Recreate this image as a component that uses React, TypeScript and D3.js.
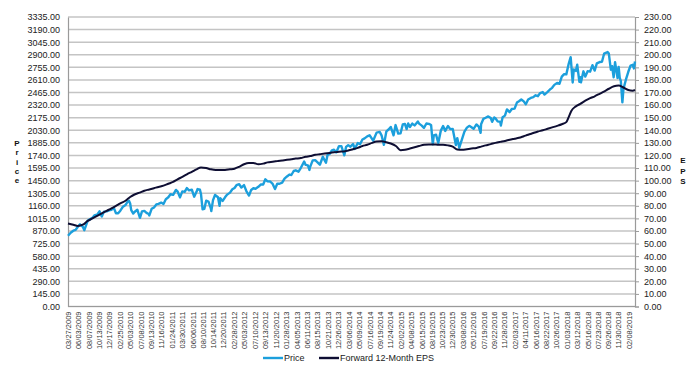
import { useEffect, useRef } from 'react';
import * as d3 from 'd3';

// S&P 500 price (roughly twice a month, more around sharp moves)
const priceData: [string, number][] = [
  ['2009-03-27', 815], ['2009-04-15', 852], ['2009-04-30', 873], ['2009-05-15', 882], ['2009-05-29', 919],
  ['2009-06-12', 946], ['2009-06-30', 919], ['2009-07-10', 879], ['2009-07-31', 987], ['2009-08-14', 1004],
  ['2009-08-31', 1021], ['2009-09-15', 1053], ['2009-09-30', 1057], ['2009-10-15', 1096], ['2009-10-30', 1036],
  ['2009-11-13', 1093], ['2009-11-30', 1096], ['2009-12-15', 1108], ['2009-12-31', 1115],
  ['2010-01-15', 1136], ['2010-01-29', 1074], ['2010-02-12', 1075], ['2010-02-26', 1104], ['2010-03-15', 1150],
  ['2010-03-31', 1169], ['2010-04-15', 1211], ['2010-04-23', 1217], ['2010-04-30', 1187], ['2010-05-07', 1110],
  ['2010-05-20', 1071], ['2010-05-28', 1089], ['2010-06-15', 1115], ['2010-06-30', 1031], ['2010-07-02', 1022],
  ['2010-07-15', 1096], ['2010-07-30', 1102], ['2010-08-13', 1079], ['2010-08-27', 1065], ['2010-08-31', 1049],
  ['2010-09-15', 1125], ['2010-09-30', 1141], ['2010-10-15', 1176], ['2010-10-29', 1183], ['2010-11-15', 1197],
  ['2010-11-30', 1181], ['2010-12-15', 1236], ['2010-12-31', 1258],
  ['2011-01-14', 1293], ['2011-01-31', 1286], ['2011-02-18', 1343], ['2011-02-28', 1327], ['2011-03-16', 1257],
  ['2011-03-31', 1326], ['2011-04-15', 1320], ['2011-04-29', 1364], ['2011-05-13', 1338], ['2011-05-31', 1345],
  ['2011-06-15', 1265], ['2011-06-30', 1321], ['2011-07-07', 1353], ['2011-07-22', 1345], ['2011-07-29', 1292],
  ['2011-08-08', 1119], ['2011-08-19', 1124], ['2011-08-31', 1219], ['2011-09-15', 1209], ['2011-09-30', 1131],
  ['2011-10-03', 1099], ['2011-10-14', 1225], ['2011-10-27', 1285], ['2011-11-15', 1258], ['2011-11-25', 1159],
  ['2011-11-30', 1247], ['2011-12-15', 1216], ['2011-12-30', 1258],
  ['2012-01-13', 1289], ['2012-01-31', 1312], ['2012-02-15', 1351], ['2012-02-29', 1366], ['2012-03-15', 1402],
  ['2012-03-30', 1408], ['2012-04-13', 1370], ['2012-04-30', 1398], ['2012-05-15', 1330], ['2012-06-01', 1278],
  ['2012-06-15', 1343], ['2012-06-29', 1362], ['2012-07-13', 1357], ['2012-07-31', 1379], ['2012-08-15', 1405],
  ['2012-08-31', 1406], ['2012-09-14', 1465], ['2012-09-28', 1441], ['2012-10-15', 1440], ['2012-10-31', 1412],
  ['2012-11-15', 1353], ['2012-11-30', 1416], ['2012-12-14', 1414], ['2012-12-31', 1426],
  ['2013-01-15', 1472], ['2013-01-31', 1498], ['2013-02-15', 1520], ['2013-02-28', 1515], ['2013-03-15', 1561],
  ['2013-03-28', 1569], ['2013-04-15', 1553], ['2013-04-30', 1598], ['2013-05-21', 1669], ['2013-05-31', 1631],
  ['2013-06-14', 1626], ['2013-06-24', 1573], ['2013-06-28', 1606], ['2013-07-15', 1683], ['2013-07-31', 1686],
  ['2013-08-15', 1661], ['2013-08-30', 1633], ['2013-09-18', 1725], ['2013-09-30', 1682], ['2013-10-08', 1656],
  ['2013-10-18', 1745], ['2013-10-31', 1757], ['2013-11-15', 1798], ['2013-11-29', 1806], ['2013-12-13', 1775],
  ['2013-12-31', 1848],
  ['2014-01-15', 1848], ['2014-02-03', 1742], ['2014-02-14', 1838], ['2014-02-28', 1859], ['2014-03-14', 1841],
  ['2014-03-31', 1872], ['2014-04-11', 1815], ['2014-04-30', 1884], ['2014-05-15', 1870], ['2014-05-30', 1924],
  ['2014-06-13', 1937], ['2014-06-30', 1960], ['2014-07-15', 1973], ['2014-07-31', 1931], ['2014-08-07', 1910],
  ['2014-08-29', 2003], ['2014-09-18', 2011], ['2014-09-30', 1972], ['2014-10-15', 1862], ['2014-10-31', 2018],
  ['2014-11-14', 2039], ['2014-11-28', 2068], ['2014-12-16', 1972], ['2014-12-29', 2090],
  ['2015-01-15', 1992], ['2015-01-30', 1995], ['2015-02-13', 2097], ['2015-02-27', 2104], ['2015-03-10', 2044],
  ['2015-03-20', 2108], ['2015-03-31', 2068], ['2015-04-15', 2107], ['2015-04-30', 2086], ['2015-05-21', 2131],
  ['2015-05-29', 2107], ['2015-06-15', 2084], ['2015-06-29', 2058], ['2015-07-15', 2108], ['2015-07-31', 2104],
  ['2015-08-14', 2091], ['2015-08-25', 1868], ['2015-08-31', 1972], ['2015-09-15', 1979], ['2015-09-29', 1884],
  ['2015-10-15', 2023], ['2015-10-30', 2079], ['2015-11-13', 2023], ['2015-11-30', 2080], ['2015-12-15', 2043],
  ['2015-12-31', 2044],
  ['2016-01-20', 1859], ['2016-01-29', 1940], ['2016-02-11', 1829], ['2016-02-29', 1932], ['2016-03-15', 2015],
  ['2016-03-31', 2060], ['2016-04-15', 2081], ['2016-04-29', 2065], ['2016-05-13', 2047], ['2016-05-31', 2097],
  ['2016-06-15', 2072], ['2016-06-27', 2001], ['2016-06-30', 2099], ['2016-07-15', 2162], ['2016-07-29', 2174],
  ['2016-08-15', 2190], ['2016-08-31', 2171], ['2016-09-09', 2128], ['2016-09-22', 2178], ['2016-09-30', 2168],
  ['2016-10-14', 2133], ['2016-10-31', 2126], ['2016-11-04', 2085], ['2016-11-15', 2180], ['2016-11-30', 2199],
  ['2016-12-13', 2271], ['2016-12-30', 2239],
  ['2017-01-13', 2275], ['2017-01-31', 2279], ['2017-02-15', 2349], ['2017-02-28', 2364], ['2017-03-15', 2385],
  ['2017-03-31', 2363], ['2017-04-13', 2329], ['2017-04-28', 2384], ['2017-05-15', 2402], ['2017-05-31', 2412],
  ['2017-06-15', 2433], ['2017-06-30', 2423], ['2017-07-14', 2459], ['2017-07-31', 2470], ['2017-08-11', 2441],
  ['2017-08-31', 2472], ['2017-09-15', 2500], ['2017-09-29', 2519], ['2017-10-13', 2553], ['2017-10-31', 2575],
  ['2017-11-15', 2565], ['2017-11-30', 2648], ['2017-12-15', 2676], ['2017-12-29', 2674],
  ['2018-01-12', 2786], ['2018-01-26', 2873], ['2018-02-08', 2581], ['2018-02-15', 2732], ['2018-02-28', 2714],
  ['2018-03-09', 2786], ['2018-03-23', 2588], ['2018-03-29', 2641], ['2018-04-02', 2582], ['2018-04-18', 2709],
  ['2018-04-30', 2648], ['2018-05-15', 2711], ['2018-05-31', 2705], ['2018-06-15', 2780], ['2018-06-29', 2718],
  ['2018-07-13', 2801], ['2018-07-31', 2816], ['2018-08-15', 2819], ['2018-08-29', 2914], ['2018-09-20', 2931],
  ['2018-09-28', 2914], ['2018-10-11', 2728], ['2018-10-19', 2768], ['2018-10-29', 2641], ['2018-11-07', 2814],
  ['2018-11-23', 2633], ['2018-11-30', 2760], ['2018-12-07', 2633], ['2018-12-14', 2600], ['2018-12-24', 2351],
  ['2018-12-31', 2507],
  ['2019-01-15', 2610], ['2019-01-31', 2704], ['2019-02-15', 2776], ['2019-02-28', 2784], ['2019-03-08', 2743],
  ['2019-03-15', 2822],
];

// forward 12-month EPS, month by month
const epsData: [string, number][] = [
  ['2009-03-27', 66], ['2009-04-30', 65], ['2009-05-29', 64], ['2009-06-30', 65], ['2009-07-31', 68],
  ['2009-08-31', 70], ['2009-09-30', 72], ['2009-10-30', 74], ['2009-11-30', 76], ['2009-12-31', 78],
  ['2010-01-29', 80], ['2010-02-26', 82], ['2010-03-31', 84], ['2010-04-30', 87], ['2010-05-28', 89],
  ['2010-06-30', 90.5], ['2010-07-30', 92], ['2010-08-31', 93], ['2010-09-30', 94], ['2010-10-29', 95],
  ['2010-11-30', 96], ['2010-12-31', 97.5], ['2011-01-31', 99], ['2011-02-28', 101], ['2011-03-31', 103],
  ['2011-04-29', 105], ['2011-05-31', 107], ['2011-06-30', 109], ['2011-07-29', 110.5], ['2011-08-31', 110],
  ['2011-09-30', 109], ['2011-10-31', 108.5], ['2011-11-30', 108.5], ['2011-12-30', 108.5], ['2012-01-31', 109],
  ['2012-02-29', 109.5], ['2012-03-30', 111], ['2012-04-30', 113], ['2012-05-31', 114], ['2012-06-29', 114],
  ['2012-07-31', 113], ['2012-08-31', 113.5], ['2012-09-28', 114.5], ['2012-10-31', 115], ['2012-11-30', 115.5],
  ['2012-12-31', 116], ['2013-01-31', 116.5], ['2013-02-28', 117], ['2013-03-28', 117.5], ['2013-04-30', 118],
  ['2013-05-31', 119], ['2013-06-28', 119.5], ['2013-07-31', 120.5], ['2013-08-30', 121], ['2013-09-30', 121.5],
  ['2013-10-31', 122], ['2013-11-29', 122.5], ['2013-12-31', 123], ['2014-01-31', 123.2], ['2014-02-28', 124],
  ['2014-03-31', 125], ['2014-04-30', 126], ['2014-05-30', 127.5], ['2014-06-30', 128.5], ['2014-07-31', 130],
  ['2014-08-29', 131], ['2014-09-30', 131.2], ['2014-10-31', 130.5], ['2014-11-28', 129.5], ['2014-12-31', 127.5],
  ['2015-01-30', 124.2], ['2015-02-27', 124.5], ['2015-03-31', 125.5], ['2015-04-30', 126.5], ['2015-05-29', 127.5],
  ['2015-06-30', 128.5], ['2015-07-31', 128.8], ['2015-08-31', 128.8], ['2015-09-30', 128.5], ['2015-10-30', 128.5],
  ['2015-11-30', 128], ['2015-12-31', 127], ['2016-01-29', 124.8], ['2016-02-29', 124.5], ['2016-03-31', 125],
  ['2016-04-29', 125.5], ['2016-05-31', 126], ['2016-06-30', 127], ['2016-07-29', 128], ['2016-08-31', 129],
  ['2016-09-30', 130], ['2016-10-31', 130.8], ['2016-11-30', 131.5], ['2016-12-30', 132.5], ['2017-01-31', 133.3],
  ['2017-02-28', 134], ['2017-03-31', 135.3], ['2017-04-28', 136.5], ['2017-05-31', 137.8], ['2017-06-30', 139],
  ['2017-07-31', 140], ['2017-08-31', 141.2], ['2017-09-29', 142.3], ['2017-10-31', 143.5], ['2017-11-30', 144.8],
  ['2017-12-29', 146.5], ['2018-01-12', 150], ['2018-01-31', 155.5], ['2018-02-28', 159], ['2018-03-29', 161],
  ['2018-04-30', 163.5], ['2018-05-31', 165.5], ['2018-06-29', 167], ['2018-07-31', 169], ['2018-08-31', 171],
  ['2018-09-28', 173], ['2018-10-31', 175], ['2018-11-30', 175.5], ['2018-12-31', 174], ['2019-01-31', 172],
  ['2019-02-28', 171.5], ['2019-03-15', 172],
];

const xLabels = [
  '03/27/2009', '06/03/2009', '08/07/2009', '10/13/2009', '12/17/2009', '02/25/2010', '05/03/2010', '07/08/2010',
  '09/13/2010', '11/16/2010', '01/24/2011', '03/30/2011', '06/06/2011', '08/10/2011', '10/14/2011', '12/20/2011',
  '02/28/2012', '05/03/2012', '07/10/2012', '09/13/2012', '11/20/2012', '01/28/2013', '04/05/2013', '06/11/2013',
  '08/15/2013', '10/21/2013', '12/26/2013', '03/06/2014', '05/09/2014', '07/16/2014', '09/19/2014', '11/24/2014',
  '02/02/2015', '04/08/2015', '06/15/2015', '08/19/2015', '10/23/2015', '12/30/2015', '03/08/2016', '05/12/2016',
  '07/19/2016', '09/22/2016', '11/28/2016', '02/03/2017', '04/11/2017', '06/16/2017', '08/22/2017', '10/26/2017',
  '01/03/2018', '03/12/2018', '05/16/2018', '07/23/2018', '09/26/2018', '11/30/2018', '02/08/2019',
];

const priceTicks = d3.range(0, 23 + 1).map(i => i * 145);
const epsTicks = d3.range(0, 23 + 1).map(i => i * 10);

const seriesNames = ['Price', 'Forward 12-Month EPS'];
const seriesColors = ['#1c9fdc', '#0e0e33'];

const FONT = "'Liberation Sans', Arial, sans-serif";

function PriceEpsChart() {
  const svgRef = useRef<SVGSVGElement | null>(null);

  useEffect(() => {
    const width = 700;
    const height = 374;
    const m = { left: 68, right: 635, top: 17, bottom: 306.5 };

    const svg = d3.select(svgRef.current);
    svg.selectAll('*').remove();
    svg.attr('width', width).attr('height', height);

    svg.append('rect').attr('width', width).attr('height', height).attr('fill', '#ffffff');

    const parse = d3.timeParse('%Y-%m-%d');
    const parseLabel = d3.timeParse('%m/%d/%Y');

    const x = d3.scaleTime()
      .domain([parse('2009-03-27')!, parse('2019-03-15')!])
      .range([m.left, m.right]);
    const yPrice = d3.scaleLinear().domain([0, 3335]).range([m.bottom, m.top]);
    const yEps = d3.scaleLinear().domain([0, 230]).range([m.bottom, m.top]);

    // gridlines
    svg.append('g')
      .selectAll('line')
      .data(priceTicks)
      .enter()
      .append('line')
      .attr('x1', m.left)
      .attr('x2', m.right)
      .attr('y1', d => yPrice(d))
      .attr('y2', d => yPrice(d))
      .attr('stroke', '#c4c4c4')
      .attr('stroke-width', 1.5);

    // left axis
    const leftAxis = svg.append('g')
      .attr('transform', `translate(${m.left},0)`)
      .call(d3.axisLeft(yPrice).tickValues(priceTicks).tickFormat(d3.format('.2f')).tickSize(0).tickPadding(8));
    leftAxis.select('.domain').attr('stroke', '#9a9a9a').attr('stroke-width', 1.2);
    leftAxis.selectAll('text').attr('font-family', FONT).attr('font-size', 9).attr('fill', '#222');

    // right axis
    const rightAxis = svg.append('g')
      .attr('transform', `translate(${m.right},0)`)
      .call(d3.axisRight(yEps).tickValues(epsTicks).tickFormat(d3.format('.2f')).tickSize(4).tickPadding(5));
    rightAxis.select('.domain').attr('stroke', '#9a9a9a').attr('stroke-width', 1.2);
    rightAxis.selectAll('line').attr('stroke', '#9a9a9a');
    rightAxis.selectAll('text').attr('font-family', FONT).attr('font-size', 9).attr('fill', '#222');

    // bottom axis
    svg.append('line')
      .attr('x1', m.left).attr('x2', m.right)
      .attr('y1', m.bottom).attr('y2', m.bottom)
      .attr('stroke', '#9a9a9a').attr('stroke-width', 1.2);

    svg.append('g')
      .selectAll('text')
      .data(xLabels)
      .enter()
      .append('text')
      .attr('transform', d => `translate(${x(parseLabel(d)!) + 2.8},${m.bottom + 5}) rotate(-90)`)
      .attr('text-anchor', 'end')
      .attr('font-family', FONT)
      .attr('font-size', 7.5)
      .attr('fill', '#333')
      .text(d => d);

    // axis titles, stacked letters
    const stacked = (letters: string, cx: number, y0: number, step: number) => {
      svg.append('g')
        .selectAll('text')
        .data(letters.split(''))
        .enter()
        .append('text')
        .attr('x', cx)
        .attr('y', (d, i) => y0 + i * step)
        .attr('text-anchor', 'middle')
        .attr('font-family', FONT)
        .attr('font-size', 8)
        .attr('font-weight', 'bold')
        .attr('fill', '#111')
        .text(d => d);
    };
    stacked('Price', 17, 146, 9.3);
    stacked('EPS', 683, 163, 10.5);

    // lines
    const priceLine = d3.line<[string, number]>()
      .x(d => x(parse(d[0])!))
      .y(d => yPrice(d[1]));
    const epsLine = d3.line<[string, number]>()
      .x(d => x(parse(d[0])!))
      .y(d => yEps(d[1]))
      .curve(d3.curveMonotoneX);

    svg.append('path')
      .datum(priceData)
      .attr('d', priceLine)
      .attr('fill', 'none')
      .attr('stroke', seriesColors[0])
      .attr('stroke-width', 2.4)
      .attr('stroke-linejoin', 'round');

    svg.append('path')
      .datum(epsData)
      .attr('d', epsLine)
      .attr('fill', 'none')
      .attr('stroke', seriesColors[1])
      .attr('stroke-width', 2)
      .attr('stroke-linejoin', 'round');

    // legend
    const legendX = [263, 319];
    const legend = svg.append('g');
    seriesNames.forEach((name, i) => {
      legend.append('line')
        .attr('x1', legendX[i]).attr('x2', legendX[i] + 20)
        .attr('y1', 358).attr('y2', 358)
        .attr('stroke', seriesColors[i])
        .attr('stroke-width', 2.4);
      legend.append('text')
        .attr('x', legendX[i] + 21)
        .attr('y', 361)
        .attr('font-family', FONT)
        .attr('font-size', 9)
        .attr('fill', '#222')
        .text(name);
    });
  }, []);

  return <svg ref={svgRef} style={{ display: 'block' }}></svg>;
}

export default function App() {
  return (
    <div style={{ width: 700, height: 374 }}>
      <style>{'body { margin: 0; }'}</style>
      <PriceEpsChart />
    </div>
  );
}
